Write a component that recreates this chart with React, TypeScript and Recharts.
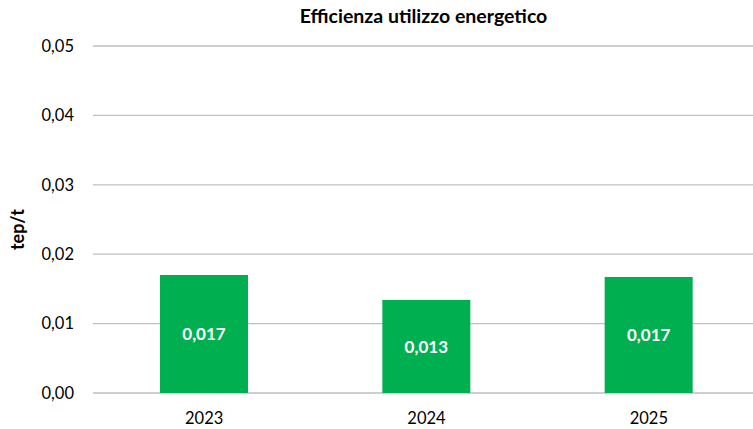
import React from "react";
import {
  Bar,
  BarChart,
  CartesianGrid,
  LabelList,
  XAxis,
  YAxis,
} from "recharts";

const years = ["2023", "2024", "2025"];
const values = [0.017, 0.0134, 0.0167];
const yTicks = [0, 0.01, 0.02, 0.03, 0.04, 0.05];

const chartData = years.map((year, i) => ({ year, value: values[i] }));

const fmt = (v: number, digits: number) => v.toFixed(digits).replace(".", ",");

const font = "Lato, 'Open Sans', sans-serif";

// rotated axis title, a bit below the plot's middle like the original
const AxisTitle = (props: any) => {
  const { viewBox } = props;
  const x = viewBox.x + 17;
  const y = viewBox.y + viewBox.height / 2 + 10;
  return (
    <text
      x={x}
      y={y}
      transform={`rotate(-90, ${x}, ${y})`}
      textAnchor="middle"
      dominantBaseline="central"
      fontWeight={700}
      fontSize={18}
      fill="#000"
    >
      tep/t
    </text>
  );
};

export default function App() {
  return (
    <div
      style={{
        position: "absolute",
        left: 0,
        top: 0,
        width: 753,
        height: 429,
        overflow: "hidden",
        background: "#fff",
        fontFamily: font,
      }}
    >
      <div
        style={{
          position: "absolute",
          left: 0,
          width: 847,
          top: 4,
          textAlign: "center",
          fontWeight: 700,
          fontSize: 19.5,
          color: "#000",
        }}
      >
        Efficienza utilizzo energetico
      </div>
      <BarChart
        width={760}
        height={429}
        data={chartData}
        margin={{ top: 46, right: 0, bottom: 0, left: 0 }}
        style={{ fontFamily: font }}
      >
        <CartesianGrid vertical={false} stroke="#bfbfbf" strokeWidth={1.3} />
        <XAxis
          dataKey="year"
          height={36}
          axisLine={false}
          tickLine={false}
          tickSize={0}
          tickMargin={19}
          tick={{ fill: "#000", fontSize: 16.5 }}
        />
        <YAxis
          width={93}
          domain={[0, 0.05]}
          ticks={yTicks}
          axisLine={false}
          tickLine={false}
          tickSize={0}
          tickMargin={19}
          tickFormatter={(v: number) => fmt(v, 2)}
          tick={{ fill: "#000", fontSize: 16.5 }}
          label={<AxisTitle />}
        />
        <Bar dataKey="value" fill="#00b050" barSize={88} isAnimationActive={false}>
          <LabelList
            dataKey="value"
            position="center"
            formatter={(v: number) => fmt(v, 3)}
            style={{ fill: "#fff", fontWeight: 700, fontSize: 17 }}
          />
        </Bar>
      </BarChart>
    </div>
  );
}
